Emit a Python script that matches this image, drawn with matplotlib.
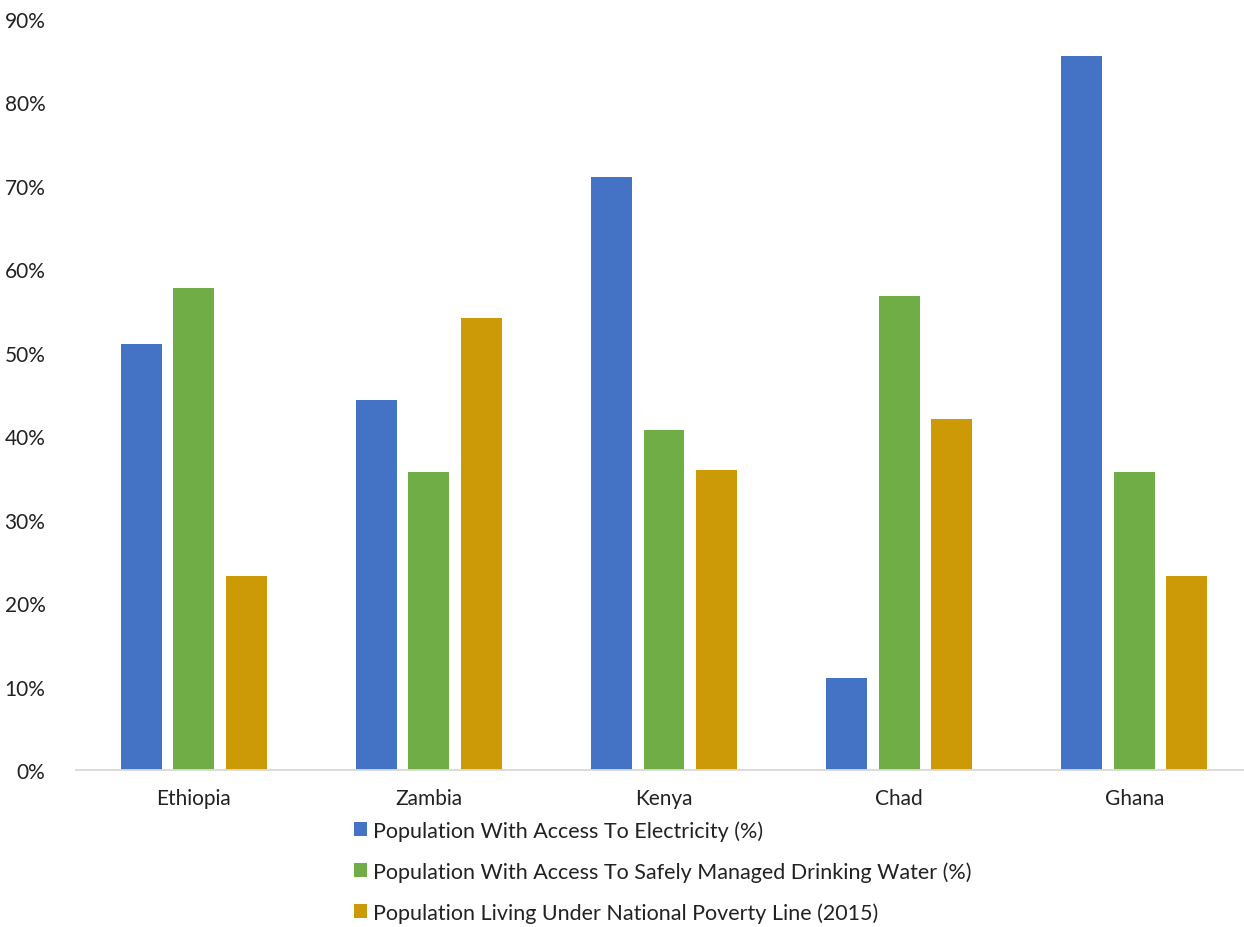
import matplotlib
matplotlib.use("Agg")
import matplotlib.pyplot as plt
from matplotlib.ticker import PercentFormatter
import numpy as np

plt.rcParams['font.family'] = ['Lato', 'DejaVu Sans']

# data
countries = ["Ethiopia", "Zambia", "Kenya", "Chad", "Ghana"]
electricity = [0.510, 0.444, 0.711, 0.110, 0.856]
water = [0.578, 0.357, 0.408, 0.568, 0.357]
poverty = [0.233, 0.542, 0.359, 0.421, 0.233]
series_names = [
    "Population With Access To Electricity (%)",
    "Population With Access To Safely Managed Drinking Water (%)",
    "Population Living Under National Poverty Line (2015)",
]
colors = ["#4472C4", "#70AD47", "#CC9A06"]

W, H = 1244, 928
fig = plt.figure(figsize=(W / 100, H / 100), dpi=100)
ax = fig.add_axes([76 / W, (H - 771) / H, 1176 / W, 751 / H])

x = np.arange(len(countries))
step = 0.223
width = 0.174
for i, (vals, name, c) in enumerate(zip([electricity, water, poverty], series_names, colors)):
    ax.bar(x + (i - 1) * step, vals, width, color=c, label=name)

ax.set_xlim(-0.5, len(countries) - 0.5)
ax.set_ylim(0, 0.9)
ax.set_yticks(np.arange(0, 0.91, 0.1))
ax.yaxis.set_major_formatter(PercentFormatter(1.0, decimals=0))
ax.set_xticks(x)
ax.set_xticklabels(countries)
ax.tick_params(axis='both', length=0, labelsize=15, colors='#222222')
ax.tick_params(axis='y', pad=22)
ax.tick_params(axis='x', pad=13)
for s in ['top', 'right', 'left']:
    ax.spines[s].set_visible(False)
ax.spines['bottom'].set_color('#d9d9d9')
ax.spines['bottom'].set_linewidth(1.3)

handles, labels = ax.get_legend_handles_labels()
fig.legend(handles, labels, loc='upper left', bbox_to_anchor=(354 / W, (H - 821) / H),
           frameon=False, fontsize=15.5, handlelength=0.6, handleheight=0.6,
           handletextpad=0.3, labelspacing=0.95, borderaxespad=0, borderpad=0,
           labelcolor='#222222')

fig.savefig("out.png", dpi=100, facecolor='white')
